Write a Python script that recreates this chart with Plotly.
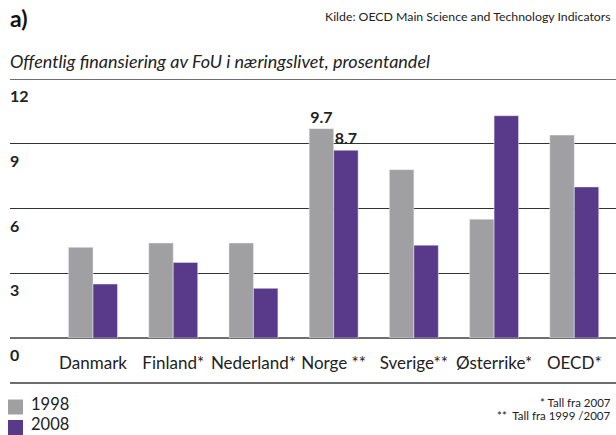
import plotly.graph_objects as go

categories = ["Danmark", "Finland*", "Nederland*", "Norge **", "Sverige**", "Østerrike*", "OECD*"]
series_names = ["1998", "2008"]
values_1998 = [4.2, 4.4, 4.4, 9.7, 7.8, 5.5, 9.4]
values_2008 = [2.5, 3.5, 2.3, 8.7, 4.3, 10.3, 7.0]
labels_1998 = ["", "", "", "9.7", "", "", ""]
labels_2008 = ["", "", "", "8.7", "", "", ""]
y_ticks = [0, 3, 6, 9, 12]

GRAY = "#a0a0a2"
PURPLE = "#58398a"
COLORS = [GRAY, PURPLE]
FONT = "Lato, Open Sans, sans-serif"
W, H = 616, 435


def py(px):
    return 1 - px / H


def pxx(px):
    return px / W


fig = go.Figure()
for name, vals, labels, color in zip(series_names, [values_1998, values_2008],
                                     [labels_1998, labels_2008], COLORS):
    fig.add_trace(go.Bar(x=categories, y=vals, name=name, marker_color=color,
                         text=labels, textposition="outside", cliponaxis=False,
                         textfont=dict(family=FONT, size=16, color="#222", weight="bold")))

left = pxx(10)
annotations = []
for t in y_ticks:
    annotations.append(dict(x=left, xref="paper", xanchor="left", xshift=-2, y=t, yref="y",
                            yanchor="top", yshift=-5, text=f"<b>{t}</b>", showarrow=False,
                            font=dict(family=FONT, size=16, color="#222")))
annotations += [
    dict(x=left, xref="paper", xanchor="left", xshift=-2, y=py(18), yref="paper", yanchor="middle",
         text="<b>a)</b>", showarrow=False, font=dict(family=FONT, size=23, color="#111")),
    dict(x=1, xref="paper", xanchor="right", xshift=-3, y=py(16), yref="paper", yanchor="middle",
         text="Kilde: OECD Main Science and Technology Indicators", showarrow=False,
         font=dict(family=FONT, size=12.3, color="#222")),
    dict(x=left, xref="paper", xanchor="left", xshift=-2, y=py(61), yref="paper", yanchor="middle",
         text="<i>Offentlig finansiering av FoU i næringslivet, prosentandel</i>", showarrow=False,
         font=dict(family=FONT, size=18, color="#222")),
    dict(x=1, xref="paper", xanchor="right", xshift=-3, y=py(402), yref="paper", yanchor="middle",
         text="* Tall fra 2007", showarrow=False, font=dict(family=FONT, size=11.5, color="#222")),
    dict(x=1, xref="paper", xanchor="right", xshift=-3, y=py(415), yref="paper", yanchor="middle",
         text="**  Tall fra 1999 /2007", showarrow=False, font=dict(family=FONT, size=11.5, color="#222")),
]

shapes = [
    dict(type="line", xref="paper", yref="y", x0=left, x1=1, y0=12, y1=12,
         line=dict(color="#6e6e6e", width=2)),
    dict(type="line", xref="paper", yref="paper", x0=left, x1=1, y0=py(383), y1=py(383),
         line=dict(color="#6e6e6e", width=2)),
]

# legend (drawn manually so it sits flush with the bottom edge)
for i, (name, color) in enumerate(zip(series_names, COLORS)):
    cy = 407 + 20.5 * i
    shapes.append(dict(type="rect", xref="paper", yref="paper", x0=pxx(8), x1=pxx(23),
                       y0=py(cy + 7.5), y1=py(cy - 7.5), fillcolor=color, line=dict(width=0)))
    annotations.append(dict(x=pxx(32), xref="paper", xanchor="left", xshift=-2,
                            y=py(435 - 20.5 * (1 - i)), yref="paper", yanchor="bottom",
                            text=name, showarrow=False, borderpad=0,
                            font=dict(family=FONT, size=16.5, color="#222")))

fig.update_layout(
    width=W, height=H,
    margin=dict(l=0, r=0, t=0, b=0),
    paper_bgcolor="white", plot_bgcolor="white",
    barmode="group", bargap=0.39, bargroupgap=0,
    showlegend=False,
    font=dict(family=FONT, color="#222"),
    xaxis=dict(domain=[left, 1], range=[-1.035, 6.52], showgrid=False, ticks="", showline=False,
               tickfont=dict(family=FONT, size=17, color="#222"), ticklabelstandoff=13,
               automargin=False),
    yaxis=dict(domain=[py(338), py(79)], range=[0, 12], tickvals=y_ticks, showticklabels=False,
               showgrid=True, gridcolor="#333", gridwidth=1, zeroline=True,
               zerolinecolor="#6e6e6e", zerolinewidth=2, showline=False, automargin=False),
    annotations=annotations,
    shapes=shapes,
)

fig.write_html("out.html", config={"displayModeBar": False, "responsive": False},
               post_script="document.body.style.margin='0';document.body.style.overflow='hidden';")
